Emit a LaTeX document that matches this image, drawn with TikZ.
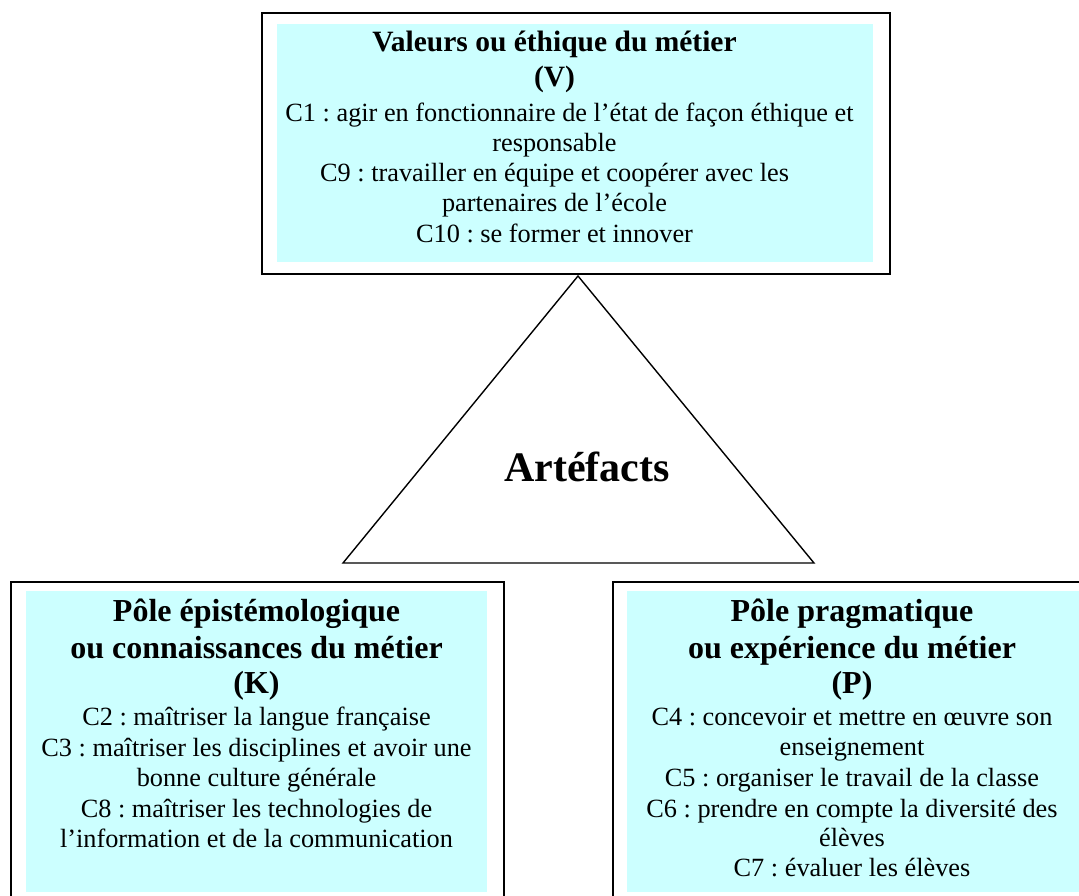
\documentclass[tikz,border=0pt]{standalone}
\usepackage{fontspec}
\setmainfont{Liberation Serif}
\frenchspacing
\definecolor{boxcyan}{RGB}{204,255,255}
\tikzset{
  outerbox/.style={draw=black, line width=1.8pt, inner sep=0pt, anchor=north west},
  cyanbox/.style={fill=boxcyan, draw=none, inner sep=0pt, anchor=north west},
  toptitle/.style={anchor=base, inner sep=0pt, font=\bfseries\fontsize{29.5}{32}\selectfont},
  titleline/.style={anchor=base, inner sep=0pt, font=\bfseries\fontsize{32}{35}\selectfont},
  bodyline/.style={anchor=base, inner sep=0pt, font=\fontsize{26.3}{29}\selectfont},
  tri/.style={draw=black, line width=1.4pt, line join=miter},
}
\begin{document}
\begin{tikzpicture}[x=1pt,y=-1pt]
\useasboundingbox (0,0) rectangle (1079,895);
\begin{scope}
\clip (0,0) rectangle (1079,895);
% top box
\node[outerbox, minimum width=628pt, minimum height=261pt] (Vout) at (261,11.7) {};
\node[cyanbox, minimum width=596pt, minimum height=238.4pt] (Vin) at (277,23.3) {};
\node[toptitle] (V1) at (554.5,51.5) {Valeurs ou éthique du métier};
\node[toptitle] (V2) at (554.5,86) {(V)};
\node[bodyline] (V3) at (569.5,121.5) {C1 : agir en fonctionnaire de l’état de façon éthique et};
\node[bodyline] (V4) at (554.5,151.5) {responsable};
\node[bodyline] (V5) at (554.5,181.5) {C9 : travailler en équipe et coopérer avec les};
\node[bodyline] (V6) at (554.5,211.5) {partenaires de l’école};
\node[bodyline] (V7) at (554.5,242.5) {C10 : se former et innover};
% left box
\node[outerbox, minimum width=493pt, minimum height=330pt] (Kout) at (10,581) {};
\node[cyanbox, minimum width=461pt, minimum height=301pt] (Kin) at (26,591) {};
\node[titleline] (K1) at (256.5,621) {Pôle épistémologique};
\node[titleline] (K2) at (256.5,658) {ou connaissances du métier};
\node[titleline] (K3) at (256.5,693) {(K)};
\node[bodyline] (K4) at (256.5,725.7) {C2 : maîtriser la langue française};
\node[bodyline] (K5) at (256.5,756) {C3 : maîtriser les disciplines et avoir une};
\node[bodyline] (K6) at (256.5,786.7) {bonne culture générale};
\node[bodyline] (K7) at (256.5,817) {C8 : maîtriser les technologies de};
\node[bodyline] (K8) at (256.5,847.3) {l’information et de la communication};
% right box
\node[outerbox, minimum width=493pt, minimum height=330pt] (Pout) at (612,581) {};
\node[cyanbox, minimum width=461pt, minimum height=301pt] (Pin) at (627,591) {};
\node[titleline] (P1) at (852,621) {Pôle pragmatique};
\node[titleline] (P2) at (852,658) {ou expérience du métier};
\node[titleline] (P3) at (852,693) {(P)};
\node[bodyline] (P4) at (852,725.7) {C4 : concevoir et mettre en œuvre son};
\node[bodyline] (P5) at (852,755) {enseignement};
\node[bodyline] (P6) at (852,786.7) {C5 : organiser le travail de la classe};
\node[bodyline] (P7) at (852,817) {C6 : prendre en compte la diversité des};
\node[bodyline] (P8) at (852,846.7) {élèves};
\node[bodyline] (P9) at (852,876.7) {C7 : évaluer les élèves};
% triangle
\coordinate (apex) at (578,276);
\coordinate (baseL) at (343,563);
\coordinate (baseR) at (814,563);
\draw[tri] (apex) -- (baseL) -- (baseR) -- cycle;
\node[anchor=base, inner sep=0pt, font=\bfseries\fontsize{42}{46}\selectfont] (art) at (587,481.7) {Artéfacts};
\end{scope}
\end{tikzpicture}
\end{document}
